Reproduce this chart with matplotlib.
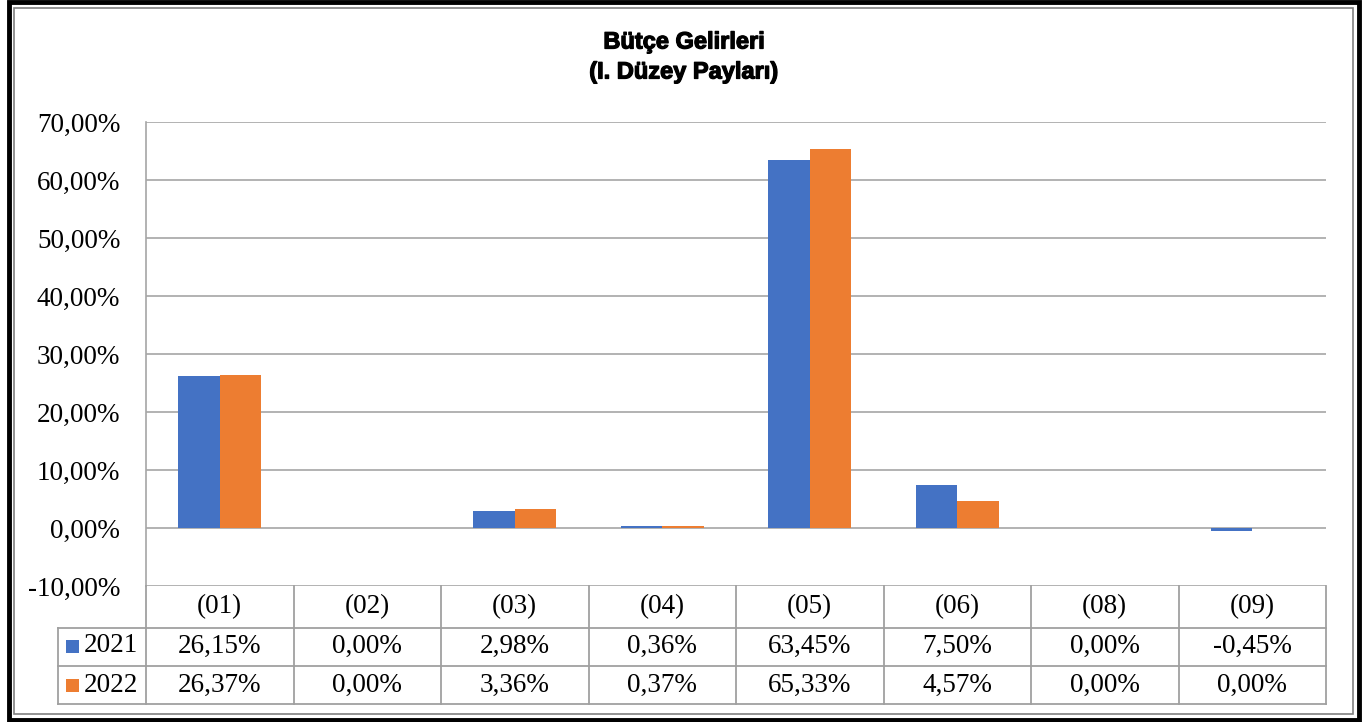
import matplotlib.pyplot as plt
import matplotlib.patheffects as pe
from matplotlib.patches import Rectangle

categories = ['(01)', '(02)', '(03)', '(04)', '(05)', '(06)', '(08)', '(09)']
years = ['2021', '2022']
v2021 = [26.15, 0.00, 2.98, 0.36, 63.45, 7.50, 0.00, -0.45]
v2022 = [26.37, 0.00, 3.36, 0.37, 65.33, 4.57, 0.00, 0.00]
yticks = [-10, 0, 10, 20, 30, 40, 50, 60, 70]
colors = ['#4472C4', '#ED7D31']

W, H = 1362, 722
fig = plt.figure(figsize=(W / 100, H / 100), dpi=100)
serif = 'Liberation Serif'
fs = 19.5

# plot area in pixels
L, R, T, B = 146, 1326, 122, 586
ax = fig.add_axes([L / W, 1 - B / H, (R - L) / W, (B - T) / H])

x = list(range(len(categories)))
bw = 0.28
ax.bar([i - bw / 2 for i in x], v2021, bw, color=colors[0], zorder=3)
ax.bar([i + bw / 2 for i in x], v2022, bw, color=colors[1], zorder=3)

ax.set_xlim(-0.5, len(categories) - 0.5)
ax.set_ylim(-10, 70)
ax.set_yticks(yticks)
ax.set_yticklabels([f'{t:.2f}%'.replace('.', ',') for t in yticks],
                   fontfamily=serif, fontsize=fs)
ax.tick_params(axis='y', length=0, pad=18.5)
ax.set_xticks([])
ax.grid(axis='y', color='#A6A6A6', linewidth=1.2, zorder=0)
for s in ['top', 'right', 'bottom']:
    ax.spines[s].set_visible(False)
ax.spines['left'].set_color('#A6A6A6')
ax.spines['left'].set_linewidth(1.2)

# data table below the plot
def fy(py):
    return 1 - py / H

def fx(px):
    return px / W

gray = '#A0A0A0'
colw = (R - L) / len(categories)
rows_y = [586, 628, 666, 704]
lw = 1.3
# horizontal lines
for yy in rows_y[1:]:
    fig.add_artist(plt.Line2D([fx(58), fx(R)], [fy(yy), fy(yy)], color=gray, lw=lw))
# vertical lines
for i in range(len(categories) + 1):
    xx = L + i * colw
    fig.add_artist(plt.Line2D([fx(xx), fx(xx)], [fy(586), fy(704)], color=gray, lw=lw))
fig.add_artist(plt.Line2D([fx(58), fx(58)], [fy(628), fy(704)], color=gray, lw=lw))

for i, c in enumerate(categories):
    cx = L + (i + 0.5) * colw
    fig.text(fx(cx), fy(607), c, ha='center', va='center', fontfamily=serif, fontsize=fs)
    for vals, yy in [(v2021, 646), (v2022, 685)]:
        fig.text(fx(cx), fy(yy), f'{vals[i]:.2f}%'.replace('.', ','),
                 ha='center', va='center', fontfamily=serif, fontsize=fs)

for k, (yr, yy) in enumerate(zip(years, [646, 685])):
    fig.add_artist(Rectangle((fx(66), fy(yy + 7)), 13 / W, 13 / H,
                             facecolor=colors[k], edgecolor='none'))
    fig.text(fx(84), fy(yy), yr, ha='left', va='center', fontfamily=serif, fontsize=fs)

# title
stroke = [pe.withStroke(linewidth=0.9, foreground='black')]
fig.text(fx(684), fy(42), 'Bütçe Gelirleri', ha='center', va='center',
         fontfamily='Liberation Sans', fontweight='bold', fontsize=17,
         path_effects=stroke)
fig.text(fx(684), fy(72), '(I. Düzey Payları)', ha='center', va='center',
         fontfamily='Liberation Sans', fontweight='bold', fontsize=17,
         path_effects=stroke)

# frame
fig.add_artist(Rectangle((fx(9), fy(720)), 1350 / W, 718 / H, fill=False,
                         edgecolor='black', linewidth=3.5))
fig.add_artist(Rectangle((fx(13.5), fy(714)), 1339 / W, 706 / H, fill=False,
                         edgecolor='#808080', linewidth=1.2))

fig.savefig('out.png', dpi=100)
